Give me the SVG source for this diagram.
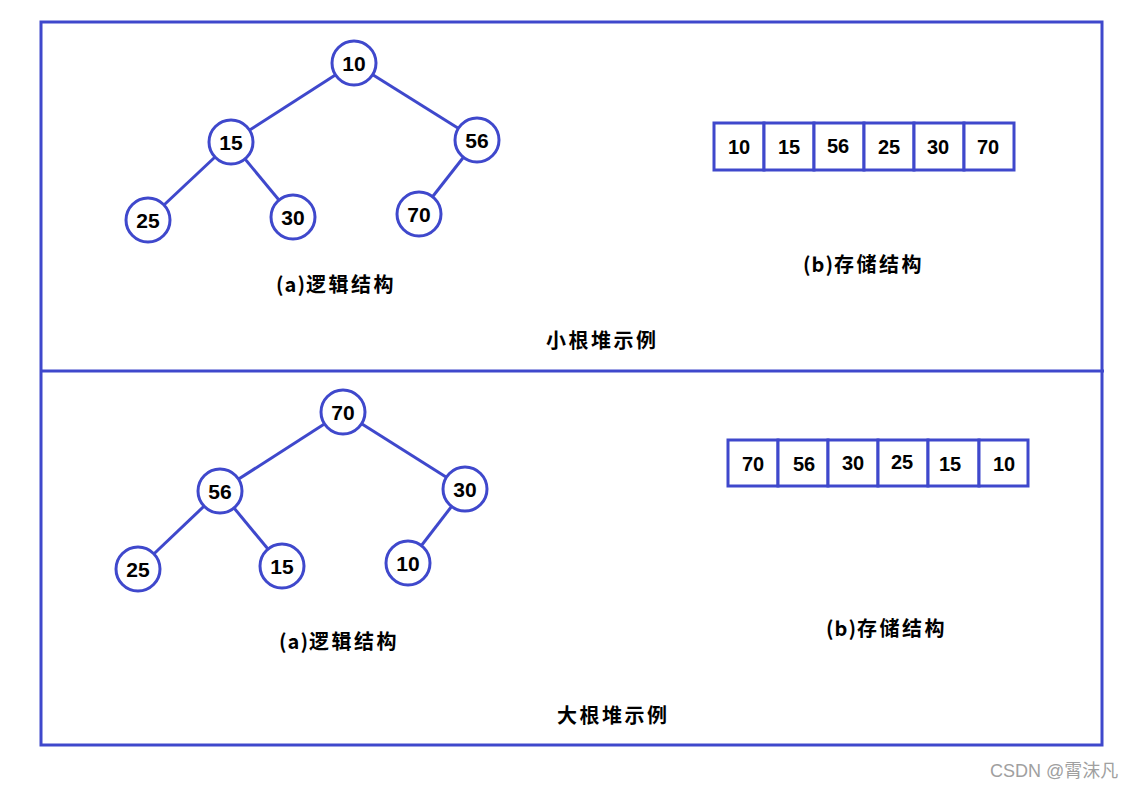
<svg xmlns="http://www.w3.org/2000/svg" width="1137" height="788" viewBox="0 0 1137 788">
<style>
.frame{fill:none;stroke:#3F48CC;stroke-width:3}
.edge{stroke:#3F48CC;stroke-width:3}
.node circle{fill:#fff;stroke:#3F48CC;stroke-width:3}
.cell rect{fill:#fff;stroke:#3F48CC;stroke-width:3}
.num{font-family:"Liberation Sans",Arial,sans-serif;font-weight:bold;font-size:21px;fill:#000;text-anchor:middle;dominant-baseline:central}
.cnum{font-size:20px}
.lbl{font-family:"Noto Sans CJK SC","Liberation Sans",sans-serif;font-weight:bold;font-size:20px;fill:#000;letter-spacing:2.5px}
.wm{font-family:"Liberation Sans","Noto Sans CJK SC",sans-serif;font-size:18px;fill:#a0a0a0}
</style>
<rect width="1137" height="788" fill="#fff"/>
<rect class="frame" x="41" y="22" width="1061" height="723"/>
<line class="frame" x1="41" y1="371" x2="1104" y2="371"/>
<g id="connectors">
<line class="edge" x1="354" y1="63" x2="231" y2="142"/>
<line class="edge" x1="354" y1="63" x2="477" y2="140"/>
<line class="edge" x1="231" y1="142" x2="148" y2="220"/>
<line class="edge" x1="231" y1="142" x2="293" y2="217"/>
<line class="edge" x1="477" y1="140" x2="419" y2="214"/>
<line class="edge" x1="343" y1="412" x2="220" y2="491"/>
<line class="edge" x1="343" y1="412" x2="465" y2="489"/>
<line class="edge" x1="220" y1="491" x2="138" y2="569"/>
<line class="edge" x1="220" y1="491" x2="282" y2="566"/>
<line class="edge" x1="465" y1="489" x2="408" y2="563"/>
</g>
<g id="min-10" class="node"><circle cx="354" cy="63" r="22"/><text class="num" x="354" y="63">10</text></g>
<g id="min-15" class="node"><circle cx="231" cy="142" r="22"/><text class="num" x="231" y="142">15</text></g>
<g id="min-56" class="node"><circle cx="477" cy="140" r="22"/><text class="num" x="477" y="140">56</text></g>
<g id="min-25" class="node"><circle cx="148" cy="220" r="22"/><text class="num" x="148" y="220">25</text></g>
<g id="min-30" class="node"><circle cx="293" cy="217" r="22"/><text class="num" x="293" y="217">30</text></g>
<g id="min-70" class="node"><circle cx="419" cy="214" r="22"/><text class="num" x="419" y="214">70</text></g>
<g id="max-70" class="node"><circle cx="343" cy="412" r="22"/><text class="num" x="343" y="412">70</text></g>
<g id="max-56" class="node"><circle cx="220" cy="491" r="22"/><text class="num" x="220" y="491">56</text></g>
<g id="max-30" class="node"><circle cx="465" cy="489" r="22"/><text class="num" x="465" y="489">30</text></g>
<g id="max-25" class="node"><circle cx="138" cy="569" r="22"/><text class="num" x="138" y="569">25</text></g>
<g id="max-15" class="node"><circle cx="282" cy="566" r="22"/><text class="num" x="282" y="566">15</text></g>
<g id="max-10" class="node"><circle cx="408" cy="563" r="22"/><text class="num" x="408" y="563">10</text></g>
<g id="min-array" class="cell">
<rect x="714" y="123" width="50" height="47"/><rect x="764" y="123" width="50" height="47"/><rect x="814" y="123" width="50" height="47"/><rect x="864" y="123" width="50" height="47"/><rect x="914" y="123" width="50" height="47"/><rect x="964" y="123" width="50" height="47"/>
<text class="num cnum" x="739" y="147">10</text><text class="num cnum" x="789" y="147">15</text><text class="num cnum" x="838" y="146">56</text><text class="num cnum" x="889" y="147">25</text><text class="num cnum" x="938" y="147">30</text><text class="num cnum" x="988" y="147">70</text>
</g>
<g id="max-array" class="cell">
<rect x="728" y="440" width="50" height="46"/><rect x="778" y="440" width="50" height="46"/><rect x="828" y="440" width="50" height="46"/><rect x="878" y="440" width="50" height="46"/><rect x="928" y="440" width="51" height="46"/><rect x="979" y="440" width="49" height="46"/>
<text class="num cnum" x="753" y="464">70</text><text class="num cnum" x="804" y="464">56</text><text class="num cnum" x="853" y="463">30</text><text class="num cnum" x="902" y="462">25</text><text class="num cnum" x="950" y="464">15</text><text class="num cnum" x="1004" y="464">10</text>
</g>
<text class="lbl" x="276" y="292"><tspan style="letter-spacing:1px">(a)</tspan>逻辑结构</text>
<text class="lbl" x="803" y="272"><tspan style="letter-spacing:1px">(b)</tspan>存储结构</text>
<text class="lbl" x="546" y="348">小根堆示例</text>
<text class="lbl" x="279" y="649"><tspan style="letter-spacing:1px">(a)</tspan>逻辑结构</text>
<text class="lbl" x="826" y="636"><tspan style="letter-spacing:1px">(b)</tspan>存储结构</text>
<text class="lbl" x="557" y="723">大根堆示例</text>
<text class="wm" x="990" y="777">CSDN @霄沫凡</text>
</svg>
